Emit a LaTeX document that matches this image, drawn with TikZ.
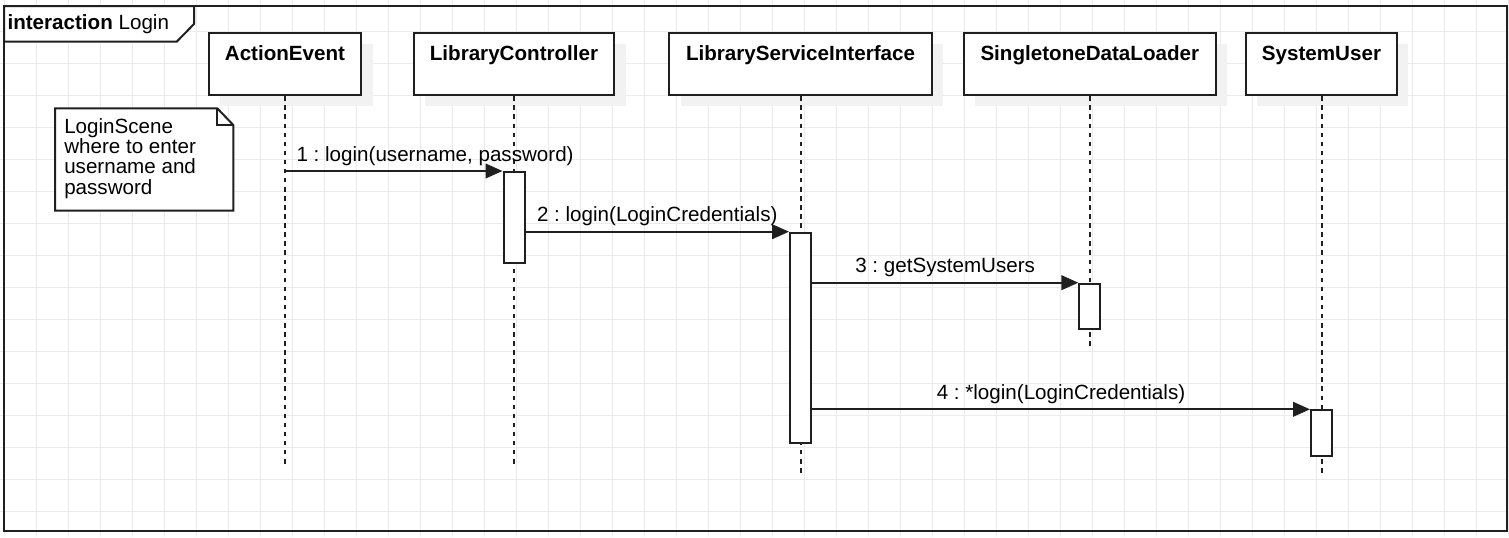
\documentclass[tikz,border=0pt]{standalone}
\usepackage{fontspec}
\setmainfont{Liberation Sans}
\usetikzlibrary{arrows.meta,shadows}
\frenchspacing
\begin{document}
\begin{tikzpicture}[x=0.75pt,y=-0.75pt,
  every node/.style={font=\fontsize{15.45}{15.2}\selectfont, inner sep=0pt},
  gridline/.style={draw=black!8, line width=0.75pt},
  frameline/.style={draw=black!88, line width=1.5pt},
  head/.style={draw=black!88, line width=1.5pt, fill=white,
    font=\fontsize{15.45}{15.2}\selectfont\bfseries,
    text height=20.7pt, text depth=26.25pt, inner sep=0pt, anchor=north,
    drop shadow={shadow xshift=8.5pt, shadow yshift=-8.1pt, fill=black!5, opacity=1}},
  lifeline/.style={draw=black!88, line width=1.5pt, dash pattern=on 3.4pt off 3.4pt},
  actbar/.style={draw=black!88, line width=1.5pt, fill=white, minimum width=15.75pt, anchor=north},
  msg/.style={draw=black!88, line width=1.5pt, -{Triangle[length=12.75pt,width=11pt]}},
  msglabel/.style={anchor=base, yshift=7.5pt},
  notebox/.style={draw=black!88, line width=1.5pt, fill=white, line join=miter}
]
\useasboundingbox (0,0) rectangle (1509,537);
\fill[white] (0,0) rectangle (1509,537);
% grid
\foreach \i in {0,...,47} \draw[gridline] ({4+32*\i},0) -- ({4+32*\i},537);
\foreach \j in {0,...,15} \draw[gridline] (0,{31.7+32*\j}) -- (1509,{31.7+32*\j});
% frame
\draw[frameline] (4,6) rectangle (1506.5,530.5);
\draw[frameline, fill=white] (4,6) -- (194,6) -- (194,24) -- (176.7,41.7) -- (4,41.7) -- cycle;
\node[anchor=base west] (ftitle) at (7.3,29.3) {\textbf{interaction} Login};
% lifeline heads
\node[head, minimum width=114.3pt] (AE) at (285,31.7) {ActionEvent};
\node[head, minimum width=150.5pt] (LC) at (514,31.7) {LibraryController};
\node[head, minimum width=196.8pt] (LSI) at (800.5,31.7) {LibraryServiceInterface};
\node[head, minimum width=188.7pt] (SDL) at (1089.8,31.7) {SingletoneDataLoader};
\node[head, minimum width=113.25pt] (SU) at (1321.5,31.7) {SystemUser};
% lifeline ends
\coordinate (AEend) at (285,465);
\coordinate (LCend) at (514,465);
\coordinate (LSIend) at (800.5,475);
\coordinate (SDLend) at (1089.8,350);
\coordinate (SUend) at (1321.5,475);
\draw[lifeline] (AE.south) -- (AEend);
\draw[lifeline] (LC.south) -- (LCend);
\draw[lifeline] (LSI.south) -- (LSIend);
\draw[lifeline] (SDL.south) -- (SDLend);
\draw[lifeline] (SU.south) -- (SUend);
% note
\node[minimum width=133.3pt, minimum height=76.3pt, anchor=north west] (notebg) at (55,108.3) {};
\draw[notebox] (notebg.north west) -- ([xshift=-12pt]notebg.north east) -- ([yshift=-12.5pt]notebg.north east) -- (notebg.south east) -- (notebg.south west) -- cycle;
\draw[notebox, fill=none] ([xshift=-12pt]notebg.north east) -- ([xshift=-12pt,yshift=-12.5pt]notebg.north east) -- ([yshift=-12.5pt]notebg.north east);
\node[anchor=base west, align=left] (notetext) at (64,194) {LoginScene\\where to enter\\username and\\password};
% activation bars
\node[actbar, minimum height=68.5pt] (a1) at (514,171) {};
\node[actbar, minimum height=157.35pt] (a2) at (800.5,231.7) {};
\node[actbar, minimum height=33.75pt] (a3) at (1089.8,282.7) {};
\node[actbar, minimum height=33.9pt] (a4) at (1321.5,409.3) {};
% messages
\draw[msg] (AE.south |- a1.north) -- (a1.north west) node[msglabel, midway, xshift=31pt] {1 : login(username, password)};
\draw[msg] (a1.east |- a2.north) -- (a2.north west) node[msglabel, midway] {2 : login(LoginCredentials)};
\draw[msg] (a2.east |- a3.north) -- (a3.north west) node[msglabel, midway] {3 : getSystemUsers};
\draw[msg] (a2.east |- a4.north) -- (a4.north west) node[msglabel, midway] {4 : *login(LoginCredentials)};
\end{tikzpicture}
\end{document}
